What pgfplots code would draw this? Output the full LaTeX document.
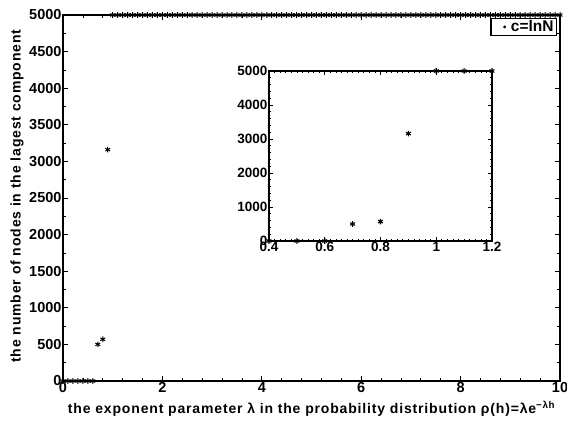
\documentclass[border=0pt]{standalone}
\usepackage{fontspec}
\setmainfont{Liberation Sans}
\newfontfamily\lblfont[LetterSpace=6]{Liberation Sans}
\usepackage{pgfplots}
\pgfplotsset{compat=1.18}
\begin{document}
\begin{tikzpicture}
\useasboundingbox (-63pt,-42pt) rectangle (504pt,381pt);
\begin{axis}[
  at={(0pt,0pt)}, anchor=south west,
  scale only axis, width=497pt, height=366pt,
  xmin=0, xmax=10, ymin=0, ymax=5000,
  xtick={0,2,4,6,8,10}, ytick={0,500,...,5000},
  minor x tick num=4, minor y tick num=1,
  tick align=inside, major tick length=5pt, minor tick length=3pt,
  axis line style={line width=1.4pt}, every tick/.style={black, line width=0.7pt},
  /pgf/number format/assume math mode=true,
  /pgf/number format/set thousands separator={},
  ticklabel style={font=\fontsize{14.5}{16}\selectfont\bfseries},
  xticklabel style={yshift=2pt},
  yticklabel style={xshift=2pt},
  xlabel={\lblfont\fontsize{14}{16}\selectfont\bfseries the exponent parameter λ in the probability distribution ρ(h)=λe\textsuperscript{\bfseries −λh}},
  ylabel={\lblfont\fontsize{14}{16}\selectfont\bfseries the number of nodes in the lagest component},
  xlabel style={at={(axis description cs:0.5,-0.076)}, anchor=center},
  ylabel style={at={(axis description cs:-0.0926,0.505)}, anchor=center},
  clip=false,
  legend style={at={(0.9945,0.992)}, anchor=north east, draw=black, line width=1.3pt, font=\fontsize{15.5}{16}\selectfont\bfseries, inner xsep=1pt, inner ysep=0pt},
  legend image code/.code={\path[draw=none, fill=none] (0cm,0cm) -- (0.6cm,0cm); \draw[#1, only marks, mark=*, mark size=1.2pt, line width=0.5pt] plot coordinates {(0.45cm,0cm)};},
  legend cell align=left,
]
\addplot[only marks, mark=asterisk, mark size=2.8pt, black, line width=1pt] coordinates {
(0,0) (0.1,0) (0.2,0) (0.3,0) (0.4,0) (0.5,0) (0.6,0) (0.7,500) (0.8,570) (0.9,3160)
(1.0,5000) (1.1,5000) (1.2,5000) (1.3,5000) (1.4,5000) (1.5,5000) (1.6,5000) (1.7,5000) (1.8,5000) (1.9,5000)
(2.0,5000) (2.1,5000) (2.2,5000) (2.3,5000) (2.4,5000) (2.5,5000) (2.6,5000) (2.7,5000) (2.8,5000) (2.9,5000)
(3.0,5000) (3.1,5000) (3.2,5000) (3.3,5000) (3.4,5000) (3.5,5000) (3.6,5000) (3.7,5000) (3.8,5000) (3.9,5000)
(4.0,5000) (4.1,5000) (4.2,5000) (4.3,5000) (4.4,5000) (4.5,5000) (4.6,5000) (4.7,5000) (4.8,5000) (4.9,5000)
(5.0,5000) (5.1,5000) (5.2,5000) (5.3,5000) (5.4,5000) (5.5,5000) (5.6,5000) (5.7,5000) (5.8,5000) (5.9,5000)
(6.0,5000) (6.1,5000) (6.2,5000) (6.3,5000) (6.4,5000) (6.5,5000) (6.6,5000) (6.7,5000) (6.8,5000) (6.9,5000)
(7.0,5000) (7.1,5000) (7.2,5000) (7.3,5000) (7.4,5000) (7.5,5000) (7.6,5000) (7.7,5000) (7.8,5000) (7.9,5000)
(8.0,5000) (8.1,5000) (8.2,5000) (8.3,5000) (8.4,5000) (8.5,5000) (8.6,5000) (8.7,5000) (8.8,5000) (8.9,5000)
(9.0,5000) (9.1,5000) (9.2,5000) (9.3,5000) (9.4,5000) (9.5,5000) (9.6,5000) (9.7,5000) (9.8,5000) (9.9,5000)
(10.0,5000)
};
\addlegendentry{c=lnN}
\end{axis}
\begin{axis}[
  at={(206pt,140pt)}, anchor=south west,
  scale only axis, width=223pt, height=170pt,
  xmin=0.4, xmax=1.2, ymin=0, ymax=5000,
  xtick={0.4,0.6,...,1.2}, ytick={0,1000,...,5000},
  minor x tick num=9, minor y tick num=4,
  tick align=inside, major tick length=4pt, minor tick length=2pt,
  axis line style={line width=1.4pt}, every tick/.style={black, line width=0.7pt},
  /pgf/number format/assume math mode=true,
  /pgf/number format/set thousands separator={},
  ticklabel style={font=\fontsize{13.5}{14}\selectfont\bfseries},
  xticklabel style={yshift=2pt},
  yticklabel style={xshift=2pt},
  clip=false,
]
\addplot[only marks, mark=asterisk, mark size=2.8pt, black, line width=1.1pt] coordinates {
(0.4,0) (0.5,0) (0.6,0) (0.7,500) (0.8,570) (0.9,3160) (1.0,5000) (1.1,5000) (1.2,5000)
};
\end{axis}
\end{tikzpicture}
\end{document}
